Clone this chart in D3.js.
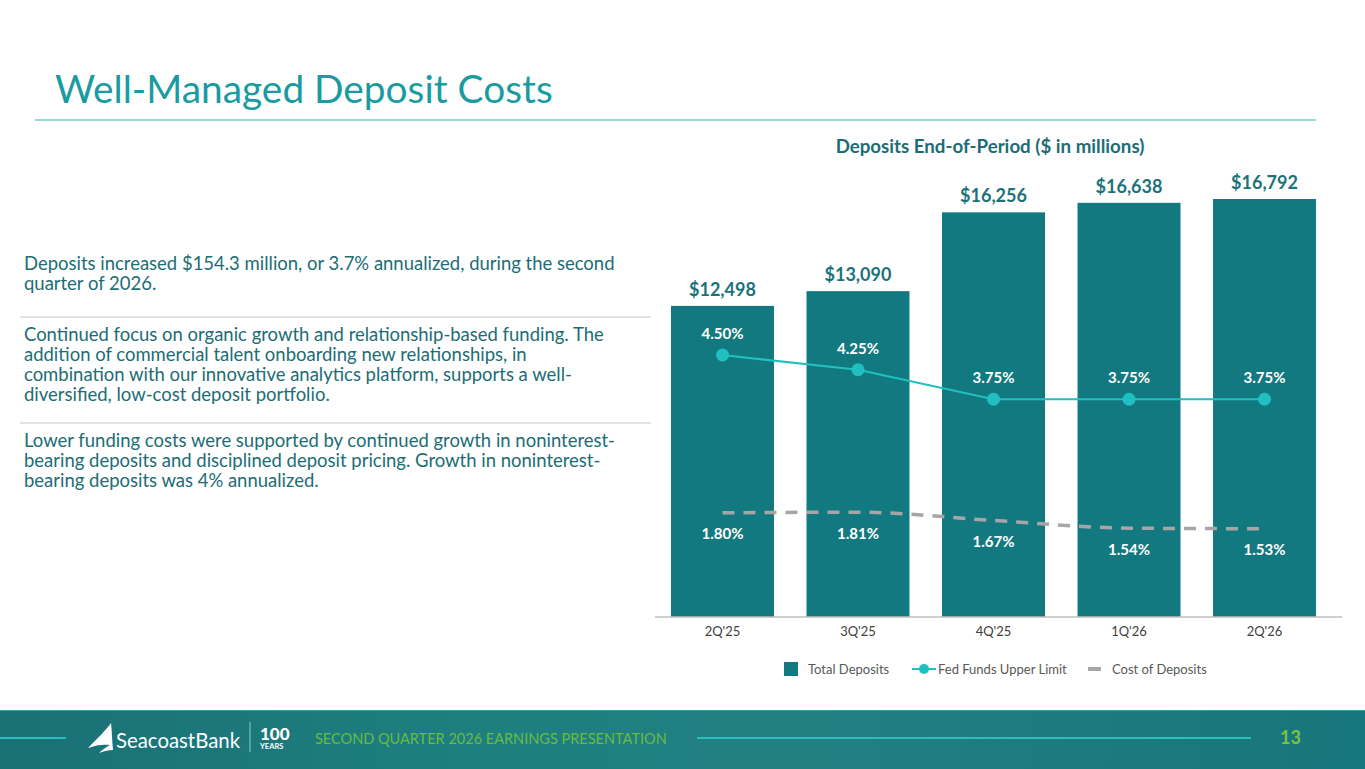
<!DOCTYPE html>
<html>
<head>
<meta charset="utf-8">
<script src="https://cdn.jsdelivr.net/npm/d3@7.9.0/dist/d3.min.js"></script>
<style>
  body { margin: 0; background: #fff; overflow: hidden; }
  svg { display: block; font-family: Lato, "Open Sans", sans-serif; }
</style>
</head>
<body>
<svg id="slide" width="1365" height="769"></svg>
<script>
// chart data
const quarters = ["2Q'25", "3Q'25", "4Q'25", "1Q'26", "2Q'26"];
const totalDeposits = [12498, 13090, 16256, 16638, 16792];
const fedFunds = [4.50, 4.25, 3.75, 3.75, 3.75];
const costOfDeposits = [1.80, 1.81, 1.67, 1.54, 1.53];
const legendLabels = ["Total Deposits", "Fed Funds Upper Limit", "Cost of Deposits"];

// slide text
const bullets = [
  ["Deposits increased $154.3 million, or 3.7% annualized, during the second",
   "quarter of 2026."],
  ["Continued focus on organic growth and relationship-based funding. The",
   "addition of commercial talent onboarding new relationships, in",
   "combination with our innovative analytics platform, supports a well-",
   "diversified, low-cost deposit portfolio."],
  ["Lower funding costs were supported by continued growth in noninterest-",
   "bearing deposits and disciplined deposit pricing. Growth in noninterest-",
   "bearing deposits was 4% annualized."]
];

const barColor = "#137980";
const fedColor = "#20bfc0";
const costColor = "#a6a6a6";
const darkTeal = "#1c6d74";

const svg = d3.select("#slide");

// shrink/grow a text node so it spans a given width
function fitWidth(sel, target) {
  const node = sel.node();
  const w = node.getComputedTextLength();
  const fs = parseFloat(sel.attr("font-size"));
  sel.attr("font-size", (fs * target / w).toFixed(2));
}

// ---- title ----
const title = svg.append("text")
  .attr("x", 55).attr("y", 103)
  .attr("font-size", 36)
  .attr("fill", "#1a9ba1")
  .text("Well-Managed Deposit Costs");
fitWidth(title, 498);

svg.append("line")
  .attr("x1", 35).attr("x2", 1316)
  .attr("y1", 120).attr("y2", 120)
  .attr("stroke", "#2ab5b5").attr("stroke-width", 1.2);

// ---- left bullets ----
const paraTop = [270, 341, 447];
const sepY = [317, 423];
let bodySize = null;
bullets.forEach((lines, p) => {
  lines.forEach((line, i) => {
    const t = svg.append("text")
      .attr("x", 24).attr("y", paraTop[p] + i * 20)
      .attr("font-size", 16.5)
      .attr("fill", darkTeal)
      .text(line);
    if (p === 0 && i === 0) { fitWidth(t, 591); bodySize = t.attr("font-size"); }
    else t.attr("font-size", bodySize);
  });
});
sepY.forEach(y => {
  svg.append("line")
    .attr("x1", 20).attr("x2", 651).attr("y1", y).attr("y2", y)
    .attr("stroke", "#d9d9d9").attr("stroke-width", 1.5);
});

// ---- chart ----
const x = d3.scaleBand()
  .domain(quarters)
  .range([655, 1332])
  .paddingInner(0.24)
  .paddingOuter(0.118);

const y = d3.scaleLinear().domain([0, 16792]).range([617, 199]);
const yPct = d3.scaleLinear().domain([0, 7]).range([620.5, 207.5]);

const chartTitle = svg.append("text")
  .attr("x", 990).attr("y", 153)
  .attr("text-anchor", "middle")
  .attr("font-size", 16).attr("font-weight", "bold")
  .attr("fill", darkTeal)
  .text("Deposits End-of-Period ($ in millions)");
fitWidth(chartTitle, 309);

const g = svg.append("g");

g.selectAll("rect.bar")
  .data(totalDeposits)
  .join("rect")
  .attr("class", "bar")
  .attr("x", (d, i) => x(quarters[i]))
  .attr("width", x.bandwidth())
  .attr("y", d => y(d))
  .attr("height", d => y(0) - y(d))
  .attr("fill", barColor);

g.selectAll("text.barLabel")
  .data(totalDeposits)
  .join("text")
  .attr("class", "barLabel")
  .attr("x", (d, i) => x(quarters[i]) + x.bandwidth() / 2)
  .attr("y", d => y(d) - 10)
  .attr("text-anchor", "middle")
  .attr("font-size", 18).attr("font-weight", "bold")
  .attr("fill", "#1b7379")
  .text(d => "$" + d3.format(",")(d));

// x axis
const xAxis = d3.axisBottom(x).tickSize(0).tickPadding(10);
const ax = svg.append("g").attr("transform", `translate(0,${y(0)})`).call(xAxis);
ax.select(".domain").attr("stroke", "#bfbfbf").attr("stroke-width", 1.5)
  .attr("d", "M655,0H1342");
ax.selectAll("text").attr("font-size", 13).attr("fill", "#404040")
  .attr("font-family", "Lato, sans-serif");

const cx = (d, i) => x(quarters[i]) + x.bandwidth() / 2;

// cost of deposits (dashed, smoothed)
g.append("path")
  .datum(costOfDeposits)
  .attr("fill", "none")
  .attr("stroke", costColor)
  .attr("stroke-width", 3.5)
  .attr("stroke-dasharray", "12,9")
  .attr("d", d3.line().x(cx).y(d => yPct(d) - 1.5).curve(d3.curveMonotoneX));

g.selectAll("text.costLabel")
  .data(costOfDeposits)
  .join("text")
  .attr("class", "costLabel")
  .attr("x", cx)
  .attr("y", d => yPct(d) + 25)
  .attr("text-anchor", "middle")
  .attr("font-size", 15).attr("font-weight", "bold")
  .attr("fill", "#fff")
  .text(d => d.toFixed(2) + "%");

// fed funds line
g.append("path")
  .datum(fedFunds)
  .attr("fill", "none")
  .attr("stroke", fedColor)
  .attr("stroke-width", 2.2)
  .attr("d", d3.line().x(cx).y(d => yPct(d)));

g.selectAll("circle.fed")
  .data(fedFunds)
  .join("circle")
  .attr("class", "fed")
  .attr("cx", cx)
  .attr("cy", d => yPct(d))
  .attr("r", 6.5)
  .attr("fill", fedColor);

g.selectAll("text.fedLabel")
  .data(fedFunds)
  .join("text")
  .attr("class", "fedLabel")
  .attr("x", cx)
  .attr("y", d => yPct(d) - 16)
  .attr("text-anchor", "middle")
  .attr("font-size", 15).attr("font-weight", "bold")
  .attr("fill", "#fff")
  .text(d => d.toFixed(2) + "%");

// legend
const leg = svg.append("g").attr("transform", "translate(0,669)");
leg.append("rect").attr("x", 784).attr("y", -7).attr("width", 14).attr("height", 14).attr("fill", barColor);
leg.append("line").attr("x1", 912).attr("x2", 936).attr("y1", 0).attr("y2", 0)
  .attr("stroke", fedColor).attr("stroke-width", 2);
leg.append("circle").attr("cx", 924).attr("cy", 0).attr("r", 5).attr("fill", fedColor);
leg.append("line").attr("x1", 1088).attr("x2", 1101).attr("y1", 0).attr("y2", 0)
  .attr("stroke", costColor).attr("stroke-width", 4);
[808, 938, 1112].forEach((lx, i) => {
  leg.append("text").attr("x", lx).attr("y", 4.5)
    .attr("font-size", 13).attr("fill", "#595959")
    .text(legendLabels[i]);
});

// ---- footer ----
const defs = svg.append("defs");
const grad = defs.append("linearGradient").attr("id", "foot").attr("x1", 0).attr("x2", 1);
grad.append("stop").attr("offset", 0).attr("stop-color", "#1a7175");
grad.append("stop").attr("offset", 0.35).attr("stop-color", "#1d7f80");
grad.append("stop").attr("offset", 0.6).attr("stop-color", "#227f82");
grad.append("stop").attr("offset", 1).attr("stop-color", "#17767b");
svg.append("rect").attr("x", 0).attr("y", 710).attr("width", 1365).attr("height", 59).attr("fill", "url(#foot)");
svg.append("line").attr("x1", 0).attr("x2", 1365).attr("y1", 710.5).attr("y2", 710.5)
  .attr("stroke", "#3a9ea0").attr("stroke-width", 1);

svg.append("line").attr("x1", 0).attr("x2", 66).attr("y1", 738).attr("y2", 738)
  .attr("stroke", "#28c0bd").attr("stroke-width", 2);
svg.append("line").attr("x1", 697).attr("x2", 1251).attr("y1", 738).attr("y2", 738)
  .attr("stroke", "#28c0bd").attr("stroke-width", 2);

// logo mark
svg.append("path")
  .attr("d", "M111,723 C106,730 98,738 88,748 C96,745 103,744 110,745 C106,747 102,750 99,753 C104,751 109,750 113,750 C112,741 112,731 111,723 Z")
  .attr("fill", "#fff");
const logo = svg.append("text").attr("x", 116).attr("y", 748)
  .attr("font-size", 21).attr("fill", "#fff")
  .text("SeacoastBank");
fitWidth(logo, 124);
svg.append("line").attr("x1", 250).attr("x2", 250).attr("y1", 722).attr("y2", 752)
  .attr("stroke", "#8cc9c8").attr("stroke-width", 1);
svg.append("text").attr("x", 260).attr("y", 740)
  .attr("font-size", 17).attr("font-weight", "900").attr("fill", "#fff")
  .text("100");
svg.append("text").attr("x", 260).attr("y", 749)
  .attr("font-size", 7.5).attr("font-weight", "bold").attr("fill", "#fff")
  .text("YEARS");

const foot = svg.append("text").attr("x", 315).attr("y", 743.5)
  .attr("font-size", 14).attr("fill", "#69bb45")
  .text("SECOND QUARTER 2026 EARNINGS PRESENTATION");
fitWidth(foot, 352);

svg.append("text").attr("x", 1280).attr("y", 744)
  .attr("font-size", 18).attr("font-weight", "bold").attr("fill", "#7dc242")
  .text("13");
</script>
</body>
</html>
